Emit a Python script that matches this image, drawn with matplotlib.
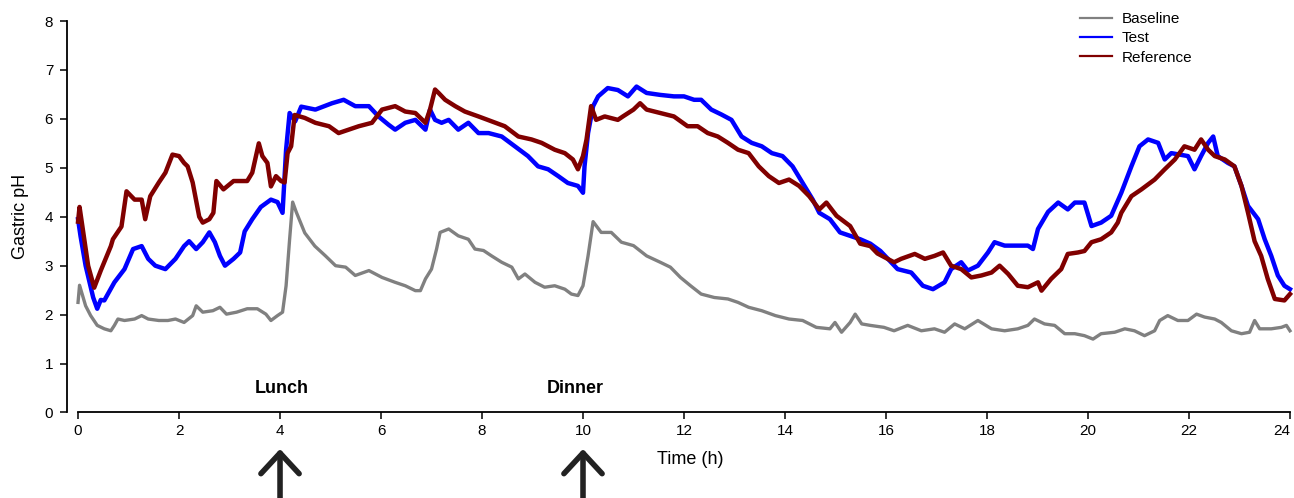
import numpy as np
import matplotlib.pyplot as plt

plt.rcParams['font.family'] = ['Liberation Sans', 'DejaVu Sans']

# Values (time in hours, gastric pH)
base_t = [0, 0.03, 0.15, 0.25, 0.38, 0.52, 0.65, 0.72, 0.79, 0.92,
          1.12, 1.26, 1.39, 1.6, 1.78, 1.93, 2.1, 2.27, 2.34, 2.47,
          2.67, 2.81, 2.94, 3.14, 3.35, 3.55, 3.72, 3.82, 3.95, 4.05,
          4.12, 4.19, 4.25, 4.32, 4.49, 4.69, 4.9, 5.1, 5.3, 5.49,
          5.76, 6.02, 6.28, 6.48, 6.68, 6.78, 6.88, 7.0, 7.1, 7.17,
          7.34, 7.53, 7.73, 7.86, 8.03, 8.19, 8.39, 8.59, 8.72, 8.85,
          9.05, 9.24, 9.44, 9.64, 9.77, 9.9, 10.0, 10.1, 10.2, 10.36,
          10.56, 10.76, 11.0, 11.26, 11.53, 11.73, 11.93, 12.13, 12.34, 12.6,
          12.87, 13.07, 13.28, 13.54, 13.81, 14.08, 14.35, 14.62, 14.89, 14.99,
          15.12, 15.29, 15.39, 15.52, 15.69, 15.96, 16.16, 16.43, 16.7, 16.96,
          17.16, 17.36, 17.56, 17.82, 18.09, 18.35, 18.61, 18.81, 18.94, 19.14,
          19.34, 19.54, 19.74, 19.93, 20.1, 20.26, 20.53, 20.73, 20.92, 21.12,
          21.32, 21.42, 21.58, 21.78, 21.98, 22.15, 22.31, 22.51, 22.64, 22.84,
          23.04, 23.2, 23.3, 23.4, 23.63, 23.83, 23.93, 24.0]
base_ph = [2.25, 2.6, 2.18, 1.98, 1.78, 1.71, 1.67, 1.78, 1.91, 1.88,
           1.91, 1.98, 1.91, 1.88, 1.88, 1.91, 1.84, 1.98, 2.18, 2.05,
           2.08, 2.15, 2.01, 2.05, 2.12, 2.12, 2.01, 1.88, 1.98, 2.05,
           2.59, 3.54, 4.3, 4.1, 3.67, 3.4, 3.2, 3.0, 2.97, 2.8,
           2.9, 2.76, 2.66, 2.59, 2.49, 2.49, 2.73, 2.93, 3.34, 3.68,
           3.75, 3.61, 3.54, 3.34, 3.31, 3.2, 3.07, 2.97, 2.73, 2.83,
           2.66, 2.56, 2.59, 2.52, 2.42, 2.39, 2.59, 3.2, 3.9, 3.68,
           3.68, 3.48, 3.41, 3.2, 3.07, 2.97, 2.76, 2.59, 2.42, 2.35,
           2.32, 2.25, 2.15, 2.08, 1.98, 1.91, 1.88, 1.74, 1.71, 1.84,
           1.64, 1.84, 2.01, 1.81, 1.78, 1.74, 1.67, 1.78, 1.67, 1.71,
           1.64, 1.81, 1.71, 1.88, 1.71, 1.67, 1.71, 1.78, 1.91, 1.81,
           1.78, 1.61, 1.61, 1.57, 1.5, 1.61, 1.64, 1.71, 1.67, 1.57,
           1.67, 1.88, 1.98, 1.88, 1.88, 2.01, 1.95, 1.91, 1.84, 1.67,
           1.61, 1.64, 1.88, 1.71, 1.71, 1.74, 1.78, 1.67]

test_t = [0, 0.05, 0.15, 0.3, 0.38, 0.45, 0.52, 0.72, 0.92, 1.09,
          1.26, 1.39, 1.53, 1.73, 1.93, 2.1, 2.2, 2.34, 2.47, 2.6,
          2.71, 2.81, 2.91, 3.08, 3.21, 3.3, 3.45, 3.62, 3.82, 3.95,
          4.05, 4.12, 4.19, 4.3, 4.42, 4.7, 5.03, 5.26, 5.49, 5.76,
          5.95, 6.15, 6.28, 6.48, 6.68, 6.88, 6.97, 7.07, 7.2, 7.34,
          7.53, 7.73, 7.93, 8.13, 8.39, 8.65, 8.91, 9.11, 9.31, 9.51,
          9.7, 9.9, 10.0, 10.03, 10.1, 10.2, 10.3, 10.49, 10.69, 10.89,
          11.06, 11.26, 11.53, 11.8, 12.0, 12.2, 12.34, 12.54, 12.74, 12.94,
          13.14, 13.34, 13.54, 13.74, 13.95, 14.15, 14.35, 14.55, 14.68, 14.89,
          15.09, 15.29, 15.49, 15.69, 15.89, 16.23, 16.5, 16.73, 16.93, 17.16,
          17.29, 17.49, 17.62, 17.82, 18.02, 18.15, 18.35, 18.61, 18.81, 18.91,
          19.01, 19.21, 19.41, 19.6, 19.74, 19.93, 20.07, 20.26, 20.46, 20.66,
          20.86, 21.02, 21.19, 21.39, 21.52, 21.65, 21.98, 22.11, 22.24, 22.38,
          22.48, 22.57, 22.77, 22.9, 23.04, 23.17, 23.37, 23.5, 23.63, 23.76,
          23.89, 24.0]
test_ph = [3.95, 3.6, 3.0, 2.35, 2.12, 2.3, 2.29, 2.66, 2.93, 3.34,
           3.4, 3.14, 3.0, 2.93, 3.14, 3.4, 3.5, 3.34, 3.48, 3.68,
           3.48, 3.2, 3.0, 3.14, 3.27, 3.7, 3.95, 4.2, 4.35, 4.3,
           4.08, 5.37, 6.12, 5.95, 6.25, 6.19, 6.32, 6.39, 6.26, 6.26,
           6.05, 5.88, 5.78, 5.92, 5.98, 5.78, 6.19, 5.98, 5.92, 5.98,
           5.78, 5.92, 5.71, 5.71, 5.64, 5.44, 5.24, 5.03, 4.97, 4.83,
           4.69, 4.63, 4.49, 5.03, 5.71, 6.26, 6.46, 6.63, 6.59, 6.46,
           6.66, 6.53, 6.49, 6.46, 6.46, 6.39, 6.39, 6.19, 6.09, 5.98,
           5.64, 5.51, 5.44, 5.3, 5.24, 5.03, 4.69, 4.35, 4.08, 3.95,
           3.68, 3.61, 3.54, 3.45, 3.3, 2.93, 2.86, 2.59, 2.52, 2.66,
           2.93, 3.07, 2.9, 3.0, 3.27, 3.48, 3.41, 3.41, 3.41, 3.34,
           3.75, 4.1, 4.29, 4.15, 4.29, 4.29, 3.81, 3.88, 4.02, 4.49,
           5.03, 5.44, 5.58, 5.51, 5.17, 5.3, 5.24, 4.97, 5.24, 5.51,
           5.64, 5.24, 5.1, 5.03, 4.63, 4.22, 3.95, 3.54, 3.2, 2.8,
           2.59, 2.52]

ref_t = [0, 0.03, 0.1, 0.2, 0.32, 0.45, 0.65, 0.69, 0.86, 0.96,
         1.12, 1.26, 1.33, 1.43, 1.6, 1.73, 1.87, 2.0, 2.1, 2.17,
         2.27, 2.4, 2.47, 2.6, 2.68, 2.74, 2.88, 3.08, 3.35, 3.45,
         3.58, 3.65, 3.75, 3.82, 3.92, 4.02, 4.09, 4.15, 4.22, 4.29,
         4.49, 4.7, 4.97, 5.16, 5.36, 5.56, 5.82, 6.02, 6.28, 6.48,
         6.68, 6.88, 6.97, 7.07, 7.14, 7.27, 7.47, 7.66, 7.93, 8.19,
         8.45, 8.72, 8.98, 9.18, 9.44, 9.64, 9.8, 9.9, 10.0, 10.07,
         10.16, 10.26, 10.43, 10.69, 10.79, 11.0, 11.13, 11.26, 11.53, 11.8,
         12.07, 12.27, 12.47, 12.67, 12.87, 13.07, 13.28, 13.48, 13.68, 13.88,
         14.08, 14.28, 14.48, 14.68, 14.82, 15.02, 15.29, 15.49, 15.69, 15.83,
         16.16, 16.3, 16.57, 16.77, 16.96, 17.13, 17.29, 17.49, 17.69, 17.89,
         18.09, 18.25, 18.42, 18.61, 18.81, 19.01, 19.08, 19.27, 19.47, 19.6,
         19.8, 19.93, 20.07, 20.26, 20.46, 20.59, 20.66, 20.86, 21.06, 21.32,
         21.52, 21.72, 21.91, 22.11, 22.24, 22.38, 22.51, 22.71, 22.9, 23.04,
         23.17, 23.3, 23.43, 23.56, 23.7, 23.89, 24.0]
ref_ph = [3.9, 4.2, 3.7, 3.0, 2.55, 2.9, 3.4, 3.54, 3.8, 4.52,
          4.35, 4.35, 3.95, 4.42, 4.7, 4.9, 5.27, 5.24, 5.1, 5.03,
          4.7, 4.0, 3.88, 3.95, 4.08, 4.73, 4.56, 4.73, 4.73, 4.9,
          5.5, 5.24, 5.1, 4.62, 4.83, 4.73, 4.7, 5.3, 5.44, 6.08,
          6.02, 5.92, 5.85, 5.71, 5.78, 5.85, 5.92, 6.19, 6.26, 6.15,
          6.12, 5.92, 6.19, 6.6, 6.53, 6.39, 6.26, 6.15, 6.05, 5.95,
          5.85, 5.64, 5.58, 5.51, 5.37, 5.3, 5.17, 4.97, 5.24, 5.58,
          6.26, 5.98, 6.05, 5.98, 6.05, 6.19, 6.32, 6.19, 6.12, 6.05,
          5.85, 5.85, 5.71, 5.64, 5.51, 5.37, 5.3, 5.03, 4.83, 4.69,
          4.76, 4.63, 4.42, 4.15, 4.29, 4.02, 3.81, 3.45, 3.4, 3.25,
          3.07, 3.14, 3.24, 3.14, 3.2, 3.27, 3.0, 2.93, 2.76, 2.8,
          2.86, 3.0, 2.83, 2.59, 2.56, 2.66, 2.49, 2.73, 2.93, 3.24,
          3.27, 3.3, 3.48, 3.54, 3.68, 3.88, 4.08, 4.42, 4.56, 4.76,
          4.97, 5.17, 5.44, 5.37, 5.58, 5.37, 5.24, 5.17, 5.03, 4.63,
          4.08, 3.5, 3.2, 2.73, 2.32, 2.29, 2.42]

meals = [4, 10]
meal_names = ['Lunch', 'Dinner']
meal_label_x = [4.04, 9.84]

fig = plt.figure(figsize=(12.94, 4.98), dpi=100)
ax = fig.add_axes([0.0518, 0.1717, 0.9482, 0.7861])

ax.plot(base_t, base_ph, color='#808080', lw=2.4, label='Baseline')
ax.plot(test_t, test_ph, color='#0000ff', lw=3.2, label='Test')
ax.plot(ref_t, ref_ph, color='#800000', lw=3.2, label='Reference')

ax.set_xlim(-0.218, 24.08)
ax.set_ylim(0, 8)
ax.set_xticks(np.arange(0, 25, 2))
ax.set_yticks(np.arange(0, 9, 1))

# R-style axes: only left and bottom, limited to the data range
for s in ['top', 'right']:
    ax.spines[s].set_visible(False)
ax.spines['left'].set_bounds(0, 8)
ax.spines['bottom'].set_bounds(0, 24)
for s in ['left', 'bottom']:
    ax.spines[s].set_linewidth(1.3)
ax.tick_params(axis='both', length=5, width=1.1, labelsize=11)
ax.tick_params(axis='y', pad=5)
ax.tick_params(axis='x', pad=3)

# last x label sits against the right edge, as in the original
fig.canvas.draw()
ax.get_xticklabels()[-1].set_ha('right')

ax.set_ylabel('Gastric pH', fontsize=13)
ax.yaxis.set_label_coords(-0.038, 0.5)
ax.yaxis.label.set_va('center')
ax.set_xlabel('Time (h)', fontsize=13)
ax.xaxis.set_label_coords(0.508, -0.12)
ax.xaxis.label.set_va('center')

for x, name, lx in zip(meals, meal_names, meal_label_x):
    ax.text(lx, 0.49, name, ha='center', va='center', fontsize=13, fontweight='bold')
    ax.annotate('', xy=(x, -0.745), xytext=(x, -1.9),
                arrowprops=dict(arrowstyle='->,head_length=0.27,head_width=0.25',
                                mutation_scale=55, lw=4, color='#222222',
                                shrinkA=0, shrinkB=0),
                annotation_clip=False)

leg = ax.legend(loc='upper left', bbox_to_anchor=(1080 / 1294, 1 - 12 / 498),
                bbox_transform=fig.transFigure, frameon=False, fontsize=11,
                borderpad=0, borderaxespad=0, handlelength=2.1,
                handletextpad=0.65, labelspacing=0.35)
for line in leg.get_lines():
    line.set_linewidth(1.6)

fig.savefig('out.png', dpi=100)
